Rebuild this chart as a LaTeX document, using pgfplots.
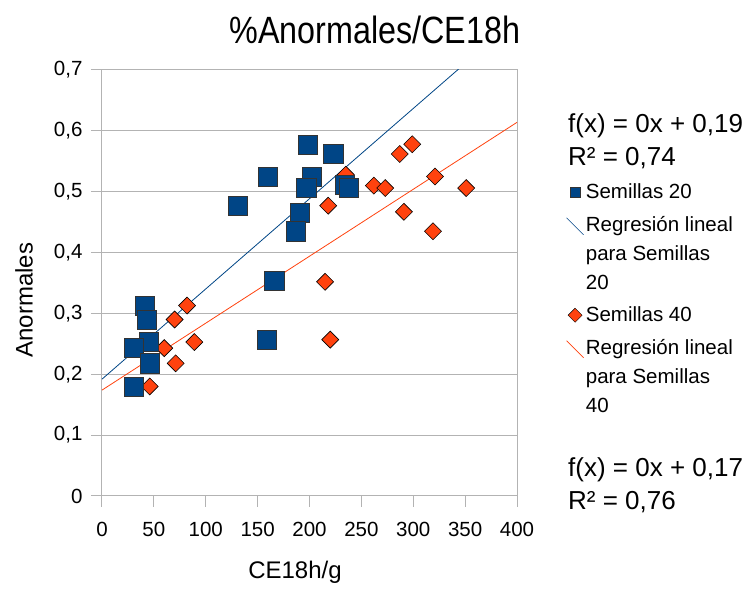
\documentclass[border=0pt]{standalone}
\usepackage{fontspec}
\setmainfont{Liberation Sans}
\usepackage{pgfplots}
\usepackage{pgfplotstable}
\pgfplotsset{compat=1.18}
\definecolor{azul}{HTML}{004586}
\definecolor{naranja}{HTML}{FF420E}
\definecolor{rejilla}{HTML}{B3B3B3}

% Semillas 20
\pgfplotstableread{
x y
198 0.577
223 0.562
160 0.525
202 0.525
197 0.506
234 0.511
238 0.506
131 0.477
191 0.466
187 0.435
166 0.353
159 0.257
41 0.313
43 0.290
45 0.254
31 0.243
46 0.218
31 0.180
}\semveinte

% Semillas 40
\pgfplotstableread{
x y
299 0.578
287 0.562
321 0.525
235 0.528
262 0.510
273 0.506
351 0.506
218 0.477
291 0.467
319 0.435
215 0.352
220 0.257
82 0.313
70 0.290
89 0.253
60 0.243
71 0.218
46 0.180
}\semcuarenta

\begin{document}
\begin{tikzpicture}[x=1pt,y=1pt]
\path[use as bounding box] (-102,-93) rectangle (653,496);
\begin{axis}[
  at={(0,0)}, anchor=south west,
  scale only axis, width=415pt, height=426pt,
  xmin=0, xmax=400, ymin=0, ymax=0.7,
  xtick={0,50,...,400}, ytick={0,0.1,...,0.7},
  ymajorgrids, grid style={rejilla, line width=1pt},
  axis line style={rejilla, line width=1pt},
  tick style={rejilla, line width=1pt}, tick align=outside,
  major tick length=11pt,
  xtick pos=bottom, ytick pos=left,
  /pgf/number format/assume math mode=true,
  /pgf/number format/use comma,
  ticklabel style={font=\fontsize{20.5}{22}\selectfont, text=black},
  x tick label style={yshift=-12pt},
  y tick label style={xshift=-5pt, /pgf/number format/.cd, fixed, precision=1},
  clip=true,
  legend style={at={(1.111,0.742)}, anchor=north west, draw=none,
    font=\fontsize{20.5}{29}\selectfont, row sep=12pt,
    cells={anchor=west, align=left}},
  legend cell align=left,
]
\addplot[azul, line width=0.8pt, forget plot] coordinates {(0,0.192) (400,0.785)};
\addplot[naranja, line width=0.8pt, forget plot] coordinates {(0,0.174) (400,0.614)};
\addplot[only marks, mark=square*, mark size=6pt, mark options={rotate=45, fill=naranja, draw=black, line width=0.6pt}, forget plot] table[x=x,y=y] {\semcuarenta};
\addplot[only marks, mark=square*, mark size=9.6pt, mark options={fill=azul, draw=black!80, line width=0.6pt}, forget plot] table[x=x,y=y] {\semveinte};

\addlegendimage{only marks, mark=square*, mark size=4.7pt, mark options={fill=azul, draw=black!80}}
\addlegendentry{Semillas 20}
\addlegendimage{legend image code/.code={\draw[azul, line width=0.6pt] (0pt,36pt) -- (17pt,19pt);}}
\addlegendentry{Regresión lineal\\para Semillas\\20}
\addlegendimage{only marks, mark=square*, mark size=5pt, mark options={rotate=45, fill=naranja, draw=black}}
\addlegendentry{Semillas 40}
\addlegendimage{legend image code/.code={\draw[naranja, line width=0.6pt] (0pt,36pt) -- (17pt,19pt);}}
\addlegendentry{Regresión lineal\\para Semillas\\40}
\end{axis}
\node at (273,466) {\scalebox{0.85}[1]{\fontsize{38}{40}\selectfont\%Anormales/CE18h}};
\node[font=\fontsize{24}{26}\selectfont] at (193,-76) {CE18h/g};
\node[font=\fontsize{24}{26}\selectfont, rotate=90] at (-78,196) {Anormales};
\begin{scope}[every node/.style={anchor=base west, inner sep=0pt, font=\fontsize{26}{28}\selectfont}]
\node at (466,363) {f(x) = 0x + 0,19};
\node at (466,330) {R² = 0,74};
\node at (466,19) {f(x) = 0x + 0,17};
\node at (466,-13) {R² = 0,76};
\end{scope}
\end{tikzpicture}
\end{document}
